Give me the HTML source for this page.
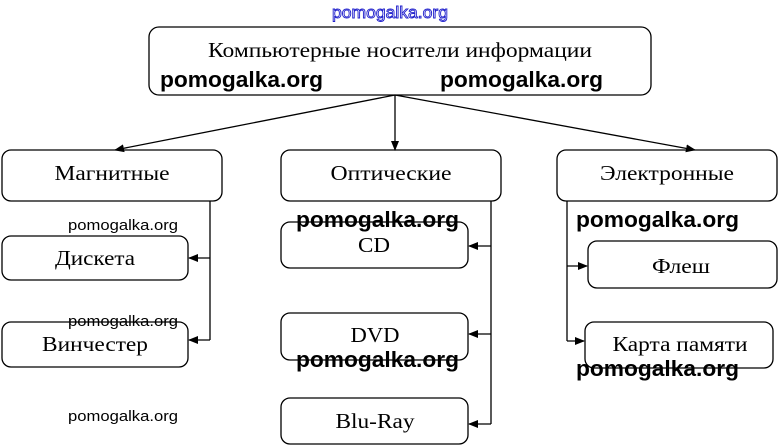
<!DOCTYPE html>
<html><head><meta charset="utf-8"><style>html,body{margin:0;padding:0;background:#fff}svg{display:block}</style></head>
<body>
<svg width="779" height="446" viewBox="0 0 779 446" xmlns="http://www.w3.org/2000/svg">
<defs><marker id="a" markerWidth="10" markerHeight="8" refX="9" refY="4" orient="auto" markerUnits="userSpaceOnUse"><path d="M0,0 L10,4 L0,8 z" fill="#000"/></marker></defs>
<g fill="none" stroke="#000" stroke-width="1.3">
<rect x="149" y="27" width="502" height="68" rx="10"/>
<rect x="2" y="150" width="220" height="51" rx="9"/>
<rect x="281" y="150" width="220" height="51" rx="9"/>
<rect x="557" y="150" width="220" height="51" rx="9"/>
<rect x="2" y="236" width="186" height="44" rx="9"/>
<rect x="2" y="322" width="186" height="45" rx="9"/>
<rect x="281" y="222" width="187" height="46" rx="9"/>
<rect x="281" y="313" width="187" height="47" rx="9"/>
<rect x="281" y="398" width="187" height="46" rx="9"/>
<rect x="588" y="241" width="189" height="47" rx="9"/>
<rect x="585" y="322" width="188" height="46" rx="9"/>
<line x1="395" y1="95" x2="115" y2="150" marker-end="url(#a)"/>
<line x1="395" y1="95" x2="395" y2="150" marker-end="url(#a)"/>
<line x1="395" y1="95" x2="695" y2="150" marker-end="url(#a)"/>
<polyline points="210,201 210,340"/>
<line x1="210" y1="258" x2="189" y2="258" marker-end="url(#a)"/>
<line x1="210" y1="340" x2="189" y2="340" marker-end="url(#a)"/>
<polyline points="491,201 491,424"/>
<line x1="491" y1="246" x2="469" y2="246" marker-end="url(#a)"/>
<line x1="491" y1="334" x2="469" y2="334" marker-end="url(#a)"/>
<line x1="491" y1="424" x2="469" y2="424" marker-end="url(#a)"/>
<polyline points="567,201 567,341"/>
<line x1="567" y1="266" x2="587" y2="266" marker-end="url(#a)"/>
<line x1="567" y1="341" x2="584" y2="341" marker-end="url(#a)"/>
</g>
<g font-family="Liberation Serif, serif" font-size="21" fill="#000" text-anchor="middle" lengthAdjust="spacingAndGlyphs">
<text x="400" y="57" textLength="384" lengthAdjust="spacingAndGlyphs">Компьютерные носители информации</text>
<text x="112" y="180" textLength="115" lengthAdjust="spacingAndGlyphs">Магнитные</text>
<text x="391" y="180" textLength="121" lengthAdjust="spacingAndGlyphs">Оптические</text>
<text x="667" y="180" textLength="134" lengthAdjust="spacingAndGlyphs">Электронные</text>
<text x="95" y="265" textLength="80" lengthAdjust="spacingAndGlyphs">Дискета</text>
<text x="95" y="351" textLength="106" lengthAdjust="spacingAndGlyphs">Винчестер</text>
<text x="374" y="252" textLength="32" lengthAdjust="spacingAndGlyphs">CD</text>
<text x="375" y="342" textLength="49" lengthAdjust="spacingAndGlyphs">DVD</text>
<text x="375" y="428" textLength="79" lengthAdjust="spacingAndGlyphs">Blu-Ray</text>
<text x="681" y="273" textLength="58" lengthAdjust="spacingAndGlyphs">Флеш</text>
<text x="680" y="351" textLength="135" lengthAdjust="spacingAndGlyphs">Карта памяти</text>
</g>
<text x="332" y="18" font-family="Liberation Sans, sans-serif" font-size="17" fill="#fff" stroke="#2222cc" stroke-width="0.9" textLength="116" lengthAdjust="spacingAndGlyphs">pomogalka.org</text>
<g font-family="Liberation Sans, sans-serif" font-weight="bold" font-size="22" fill="#000">
<text x="160" y="87" textLength="163" lengthAdjust="spacingAndGlyphs">pomogalka.org</text>
<text x="440" y="87" textLength="163" lengthAdjust="spacingAndGlyphs">pomogalka.org</text>
<text x="296" y="227" textLength="163" lengthAdjust="spacingAndGlyphs">pomogalka.org</text>
<text x="576" y="227" textLength="163" lengthAdjust="spacingAndGlyphs">pomogalka.org</text>
<text x="296" y="367" textLength="163" lengthAdjust="spacingAndGlyphs">pomogalka.org</text>
<text x="576" y="376" textLength="163" lengthAdjust="spacingAndGlyphs">pomogalka.org</text>
</g>
<g font-family="Liberation Sans, sans-serif" font-size="15" fill="#000">
<text x="68" y="230" textLength="110" lengthAdjust="spacingAndGlyphs">pomogalka.org</text>
<text x="68" y="326" textLength="110" lengthAdjust="spacingAndGlyphs">pomogalka.org</text>
<text x="68" y="421" textLength="110" lengthAdjust="spacingAndGlyphs">pomogalka.org</text>
</g>
</svg>
</body></html>
